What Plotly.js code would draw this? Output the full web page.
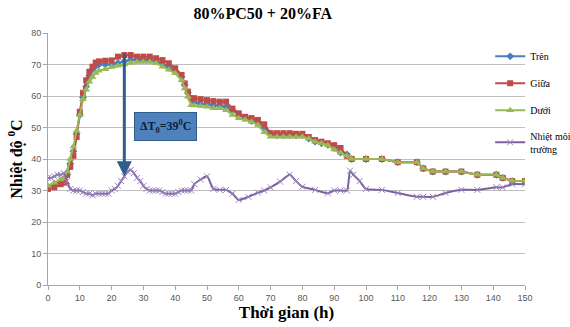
<!DOCTYPE html>
<html>
<head>
<meta charset="utf-8">
<script src="https://cdn.plot.ly/plotly-3.0.1.min.js"></script>
<style>html,body{margin:0;padding:0;background:#fff;}#chart{width:570px;height:327px;}</style>
</head>
<body>
<div id="chart"></div>
<script>
// Concrete temperature measurement times (h)
const timeConcrete = [0,2,4,5,6,7,8,9,10,11,12,13,14,15,16,18,20,22,24,26,28,30,32,34,36,38,40,42,43,44,45,46,48,50,52,54,56,58,60,62,64,66,68,70,72,74,76,78,80,82,84,86,88,90,92,94,95.5,100,105,110,116,118,121,125,130,135,141,143,146,150];
const tren  = [31,32,33,33.5,35,38.5,42.5,48,54,59.5,63,66.5,68.5,69.5,70,70,70,70.5,71,71.5,71.5,71.5,71.5,71,70,69,68,66,63.5,61,59,58,57.5,57.5,57,57,56.5,55.5,54,53,52,51.5,50,48,47.5,47.5,47.5,47.5,47.5,46.5,45.5,45,44.5,43.5,42,41.5,40,40,40,39,39,37,36,36,36,35,35,34,33,33];
const giua  = [30.5,31,32,32.5,35,37.5,41,47,55,61,65,67.7,69.3,70.6,71,71.2,71.3,72.5,73,73,72.5,72.5,72.5,72,71.4,70.4,68.8,66.7,64,61.4,59.3,59.3,59,58.7,58.4,58.2,58.2,56,54.5,53.4,53,52.4,51,48.2,48.2,48.2,48.2,48,48,47,46,45.5,45,44.4,43.5,41,40,40,40,39,39,37,36,36,36,35,35,34,33,33];
const duoi  = [31.5,32.5,33.5,34,36,40,44,49,54,59,62,64.5,66,67.3,68,68.5,69.2,69.6,70,70.5,70.8,70.8,70.8,70.4,69.3,68.3,67.2,65,62.4,59.8,57.1,57,56.8,56.6,56.1,56.1,55.5,54,52.9,52.5,51.8,50.8,48.5,47.1,47.1,47.1,47.1,47.1,47.1,46.5,45.5,45,44.4,43,42,41,40,40,40,39,39,37,36,36,36,35,35,34,33,33];
// Ambient temperature
const timeAmbient = [0,1,2,3,4,5,6,7,8,9,10,11,12,13,14,15,16,17,18,19,20,21,22,23,24,25,26,27,28,29,30,31,32,33,34,35,36,37,38,39,40,41,42,43,44,45,46,48,50,52,54,56,58,60,63,66,68,70,73,76,78,80,84,88,90,92,94,95,96,98,100,105,110,116,118,121,125,130,135,141,143,146,150];
const moiTruong = [34,34,34.5,35,35,35.5,33,30.5,30,30,30,29.5,29,29,28.5,29,29,29,29,29,30,30.5,31.5,33,34.5,36,36.5,35.5,34,33,31.5,30.5,30,30,30,30,29.5,29,29,29,29,29.5,30,30,30,30,32,33.5,34.5,30.5,30.2,30.2,29,27,28,29.3,30,31,32.8,35,33,31.2,30.2,29.1,30,30,30,36.3,35,33,30.5,30.2,29.2,28,28,28,29.2,30.2,30.2,31,31,32,32];
const seriesNames = ['Trên','Giữa','Dưới','Nhiệt môi<br>trường'];
const titleText = '80%PC50 + 20%FA';
const xTitle = 'Thời gian (h)';
const yTitle = 'Nhiệt độ <sup>0</sup>C';

const serif = 'Liberation Serif, Times New Roman, serif';
const sans = 'Liberation Sans, Arial, sans-serif';

const traces = [
  {x: timeConcrete, y: tren, name: seriesNames[0], legendgroup:'a', mode:'lines+markers',
   line:{color:'#4a7ebb', width:2}, marker:{symbol:'diamond', size:6, color:'#4a7ebb'}},
  {x: timeConcrete, y: giua, name: seriesNames[1], legendgroup:'b', mode:'lines+markers',
   line:{color:'#be4b48', width:2}, marker:{symbol:'square', size:6, color:'#be4b48'}},
  {x: timeConcrete, y: duoi, name: seriesNames[2], legendgroup:'c', mode:'lines+markers',
   line:{color:'#98b954', width:2}, marker:{symbol:'triangle-up', size:7, color:'#98b954'}},
  {x: timeAmbient, y: moiTruong, name: seriesNames[3], legendgroup:'d', mode:'lines+markers',
   line:{color:'#7d60a0', width:2, shape:'spline', smoothing:0.6}, marker:{symbol:'x-thin', size:6, color:'#9a86bd', line:{color:'#9a86bd', width:1}}}
];

const layout = {
  width:570, height:327,
  margin:{l:48, r:45, t:33, b:42, autoexpand:false},
  paper_bgcolor:'#fff', plot_bgcolor:'#fff',
  title:{text:'<b>'+titleText+'</b>', x:0.461, xanchor:'center', y:0.958, yanchor:'middle', font:{family:serif, size:16, color:'#000'}},
  xaxis:{range:[0,150], tick0:0, dtick:10, showgrid:false, zeroline:false,
    showline:true, linecolor:'#a6a6a6', linewidth:1, ticks:'outside', ticklen:4, tickcolor:'#a6a6a6',
    tickfont:{family:sans, size:9, color:'#595959'},
    title:{text:'<b>'+xTitle+'</b>', font:{family:serif, size:17, color:'#000'}, standoff:3}},
  yaxis:{range:[0,80], tick0:0, dtick:10, showgrid:true, gridcolor:'#c0c0c0', gridwidth:1, zeroline:false,
    showline:true, linecolor:'#a6a6a6', linewidth:1, ticks:'outside', ticklen:4, tickcolor:'#a6a6a6',
    tickfont:{family:sans, size:9, color:'#595959'},
    title:{text:'<b>'+yTitle+'</b>', font:{family:serif, size:16, color:'#000'}, standoff:4}},
  legend:{x:0.927, xanchor:'left', y:0.965, yanchor:'top', bgcolor:'rgba(0,0,0,0)',
    font:{family:serif, size:10, color:'#000'}, traceorder:'grouped', tracegroupgap:8, itemwidth:30},
  showlegend:true,
  annotations:[
    {x:24, y:34.5, ax:24, ay:74, xref:'x', yref:'y', axref:'x', ayref:'y', text:'', showarrow:true,
     arrowhead:2, arrowsize:1, arrowwidth:3, arrowcolor:'#2f5d8c'},
    {x:37, y:50.2, xref:'x', yref:'y', showarrow:false,
     text:'<b>ΔT<sub>0</sub>=39<sup>0</sup>C</b>', font:{family:serif, size:12, color:'#10203a'},
     bgcolor:'#4f81bd', bordercolor:'#2f5d8c', borderwidth:1, borderpad:5}
  ]
};

Plotly.newPlot('chart', traces, layout, {displayModeBar:false, staticPlot:true});
</script>
</body>
</html>
